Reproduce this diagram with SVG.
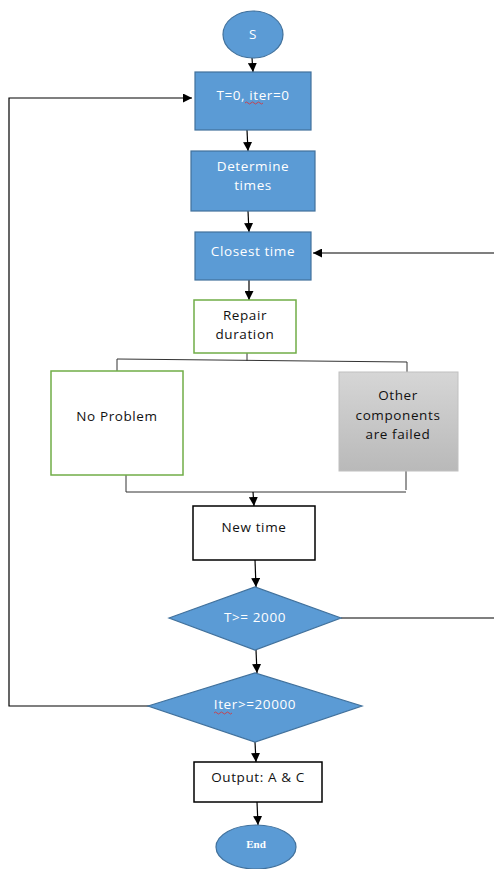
<svg xmlns="http://www.w3.org/2000/svg" width="494" height="869" viewBox="0 0 494 869">
<style>
.blue{fill:#5b9bd5;stroke:#41719c;stroke-width:1.2}
.green{fill:#ffffff;stroke:#70ad47;stroke-width:1.5}
.black{fill:#ffffff;stroke:#000000;stroke-width:1.5}
.wt{fill:#ffffff;font-family:"Open Sans","Liberation Sans",sans-serif;font-size:13.5px;letter-spacing:0.6px;text-anchor:middle}
.bt{fill:#111111;font-family:"Open Sans","Liberation Sans",sans-serif;font-size:13.5px;letter-spacing:0.6px;text-anchor:middle}
.ln{fill:none;stroke:#000000;stroke-width:1.2}
.thin{fill:none;stroke:#333333;stroke-width:1}
.sq{fill:none;stroke:#e03030;stroke-width:0.8}
</style>
<defs>
<marker id="ah" viewBox="0 0 10 10" refX="10" refY="5" markerWidth="9" markerHeight="9" markerUnits="userSpaceOnUse" orient="auto">
<path d="M0,0 L10,5 L0,10 z" fill="#000000"/>
</marker>
<linearGradient id="gray" x1="0" y1="0" x2="0" y2="1">
<stop offset="0" stop-color="#d6d6d6"/>
<stop offset="1" stop-color="#b9b9b9"/>
</linearGradient>
</defs>
<rect width="494" height="869" fill="#ffffff"/>
<g id="connectors">
<path class="ln" d="M252,58 L253,72" marker-end="url(#ah)"/>
<path class="ln" d="M247,130 L248,151" marker-end="url(#ah)"/>
<path class="ln" d="M248,211 L249,232" marker-end="url(#ah)"/>
<path class="ln" d="M249,280 L249,300" marker-end="url(#ah)"/>
<path class="thin" d="M247,353 L247,361"/>
<path class="thin" d="M117,359 L407,362"/>
<path class="thin" d="M117,359 L117,371"/>
<path class="thin" d="M407,362 L407,372"/>
<path class="thin" d="M126,475 L126,492"/>
<path class="thin" d="M406,471 L406,490"/>
<path class="thin" d="M126,492 L406,492"/>
<path class="ln" d="M253,492 L254,506" marker-end="url(#ah)"/>
<path class="ln" d="M255,560 L256,587" marker-end="url(#ah)"/>
<path class="ln" d="M256,650 L257,673" marker-end="url(#ah)"/>
<path class="ln" d="M255,742 L256,762" marker-end="url(#ah)"/>
<path class="ln" d="M257,802 L258,825" marker-end="url(#ah)"/>
<path class="ln" d="M341,618 L494,618"/>
<path class="ln" d="M494,253 L313,253" marker-end="url(#ah)"/>
<path class="ln" d="M150,706 L9,706 L9,98 L192,98" marker-end="url(#ah)"/>
</g>
<g id="start">
<ellipse class="blue" cx="253" cy="34.5" rx="30" ry="23.5"/>
<text class="wt" x="253" y="39">S</text>
</g>
<g id="init">
<rect class="blue" x="195" y="72" width="116" height="58"/>
<text class="wt" x="253" y="100">T=0, iter=0</text>
<path class="sq" d="M245,103 q1.5,-2 3,0 t3,0 t3,0 t3,0 t3,0 t3,0"/>
</g>
<g id="determine">
<rect class="blue" x="191" y="151" width="124" height="60"/>
<text class="wt" x="253" y="171">Determine</text>
<text class="wt" x="253" y="190">times</text>
</g>
<g id="closest">
<rect class="blue" x="195" y="232" width="116" height="48"/>
<text class="wt" x="253" y="256">Closest time</text>
</g>
<g id="repair">
<rect class="green" x="194" y="300" width="102" height="53"/>
<text class="bt" x="245" y="320">Repair</text>
<text class="bt" x="245" y="339">duration</text>
</g>
<g id="noproblem">
<rect class="green" x="51" y="371" width="132" height="104"/>
<text class="bt" x="117" y="421">No Problem</text>
</g>
<g id="other">
<rect x="339" y="372" width="119" height="99" fill="url(#gray)" stroke="#c0c0c0" stroke-width="1"/>
<text class="bt" x="398" y="400">Other</text>
<text class="bt" x="398" y="420">components</text>
<text class="bt" x="398" y="439">are failed</text>
</g>
<g id="newtime">
<rect class="black" x="193" y="506" width="122" height="54"/>
<text class="bt" x="254" y="532">New time</text>
</g>
<g id="tcheck">
<polygon class="blue" points="169,618 255,587 341,618 255,650"/>
<text class="wt" x="255" y="622">T&gt;= 2000</text>
</g>
<g id="itercheck">
<polygon class="blue" points="148,706 255,673 362,706 255,742"/>
<text class="wt" x="255" y="709">Iter&gt;=20000</text>
<path class="sq" d="M214,713 q1.5,-2 3,0 t3,0 t3,0 t3,0 t3,0 t3,0"/>
</g>
<g id="output">
<rect class="black" x="194" y="762" width="128" height="40"/>
<text class="bt" x="258" y="782">Output: A &amp; C</text>
</g>
<g id="end">
<ellipse class="blue" cx="256" cy="847" rx="40" ry="22"/>
<text x="256" y="848" fill="#ffffff" font-family="'Liberation Serif',serif" font-weight="bold" font-size="11" text-anchor="middle">End</text>
</g>
</svg>
